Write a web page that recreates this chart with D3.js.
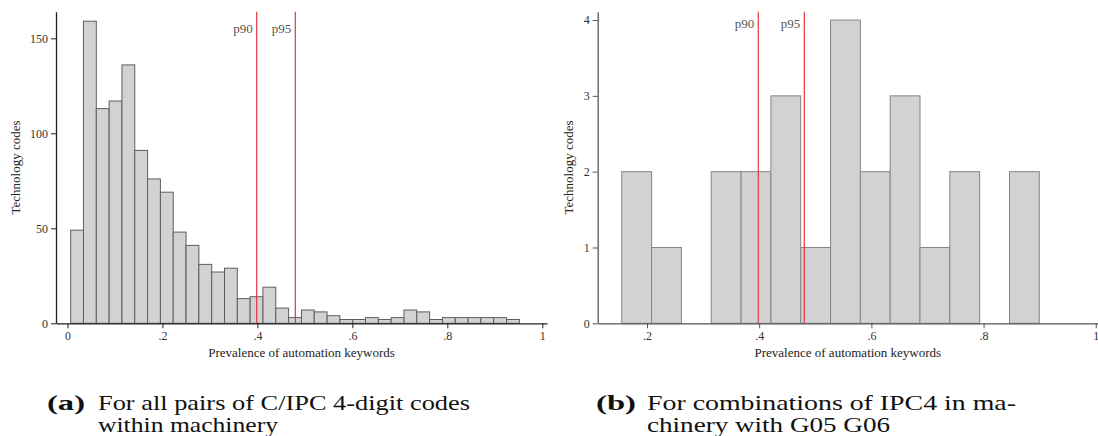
<!DOCTYPE html>
<html><head><meta charset="utf-8">
<script src="https://cdn.jsdelivr.net/npm/d3@7/dist/d3.min.js"></script>
<style>
html,body{margin:0;padding:0;background:#fff;}
svg{display:block;}
</style></head>
<body>
<svg id="chart" width="1098" height="436"></svg>
<script>
// ---- data ----
const leftBinStart = 0.0067;
const leftBinWidth = 0.027;
const leftCounts = [49,159,113,117,136,91,76,69,48,41,31,27,29,13,14,19,8,3,7,6,4,2,2,3,2,3,7,6,2,3,3,3,3,3,2];
const leftYTicks = [0,50,100,150];
const leftXTicks = [0,0.2,0.4,0.6,0.8,1];
const leftXTickLabels = ["0",".2",".4",".6",".8","1"];
const leftPercentiles = [0.3985,0.4798];

const rightBinStart = 0.155;
const rightBinWidth = 0.05317;
const rightCounts = [2,1,0,2,2,3,1,4,2,3,1,2,0,2];
const rightYTicks = [0,1,2,3,4];
const rightXTicks = [0.2,0.4,0.6,0.8,1];
const rightXTickLabels = [".2",".4",".6",".8","1"];
const rightPercentiles = [0.3984,0.4804];

const percentileLabels = ["p90","p95"];
const xTitle = "Prevalence of automation keywords";
const yTitle = "Technology codes";
const captionA = ["(a)","For all pairs of C/IPC 4-digit codes","within machinery"];
const captionB = ["(b)","For combinations of IPC4 in ma-","chinery with G05 G06"];

const svg = d3.select("#chart");
const SERIF = "'Liberation Serif','Times New Roman',serif";
const CAPFONT = "'Liberation Serif','Times New Roman',serif";

function panel(cfg){
  const g = svg.append("g");
  const x = d3.scaleLinear().domain(cfg.xDomain).range([cfg.x0, cfg.x1]);
  const y = d3.scaleLinear().domain(cfg.yDomain).range([cfg.yBottom, cfg.yTop]);
  const bins = cfg.counts.map((c,i)=>({x0: cfg.binStart + i*cfg.binWidth, x1: cfg.binStart+(i+1)*cfg.binWidth, c}));

  g.append("g").selectAll("rect").data(bins.filter(d=>d.c>0)).join("rect")
    .attr("x", d=>x(d.x0)).attr("width", d=>x(d.x1)-x(d.x0))
    .attr("y", d=>y(d.c)).attr("height", d=>y(0)-y(d.c))
    .attr("fill","#d2d2d2").attr("stroke",cfg.barStroke).attr("stroke-width",1);

  // percentile lines
  g.append("g").selectAll("line").data(cfg.pcts).join("line")
    .attr("x1",d=>x(d)).attr("x2",d=>x(d))
    .attr("y1",cfg.yTop).attr("y2",cfg.yBottom)
    .attr("stroke","#e2383d").attr("stroke-width",1.2);
  g.append("g").selectAll("text").data(cfg.pcts).join("text")
    .attr("x",d=>x(d)-4).attr("y",cfg.pLabelY)
    .attr("text-anchor","end").attr("font-family",SERIF).attr("font-size",13)
    .attr("fill","#555").text((d,i)=>percentileLabels[i]);

  // x axis
  const xa = g.append("g").attr("transform",`translate(0,${cfg.yBottom})`)
    .call(d3.axisBottom(x).tickValues(cfg.xTicks).tickFormat((d,i)=>cfg.xTickLabels[i]).tickSize(5).tickSizeOuter(0).tickPadding(3));
  // y axis
  const ya = g.append("g").attr("transform",`translate(${cfg.x0},0)`)
    .call(d3.axisLeft(y).tickValues(cfg.yTicks).tickFormat(d3.format("d")).tickSize(5).tickSizeOuter(0).tickPadding(3));
  [xa,ya].forEach(a=>{
    a.select(".domain").attr("stroke",cfg.axisColor).attr("stroke-width",1.3);
    a.selectAll(".tick line").attr("stroke",cfg.axisColor);
    a.selectAll(".tick text").attr("font-family",SERIF).attr("font-size",12).attr("fill","#333");
  });

  g.append("text").attr("x",(cfg.x0+cfg.x1)/2).attr("y",357)
    .attr("text-anchor","middle").attr("font-family",SERIF).attr("font-size",13).attr("fill","#222").text(xTitle);
  g.append("text").attr("transform",`translate(${cfg.yTitleX},${(cfg.yTop+cfg.yBottom)/2}) rotate(-90)`)
    .attr("text-anchor","middle").attr("dy","0.35em").attr("font-family",SERIF).attr("font-size",13).attr("fill","#222").text(yTitle);

  // caption
  const cap = g.append("g").attr("font-family",CAPFONT).attr("font-size",21).attr("fill","#111");
  cap.append("text").attr("x",cfg.capX).attr("y",410).attr("font-weight","bold")
    .attr("textLength",cfg.capLen[0]).attr("lengthAdjust","spacingAndGlyphs").text(cfg.caption[0]);
  cap.append("text").attr("x",cfg.capX+51).attr("y",410)
    .attr("textLength",cfg.capLen[1]).attr("lengthAdjust","spacingAndGlyphs").text(cfg.caption[1]);
  cap.append("text").attr("x",cfg.capX+51).attr("y",432)
    .attr("textLength",cfg.capLen[2]).attr("lengthAdjust","spacingAndGlyphs").text(cfg.caption[2]);
}

panel({
  counts:leftCounts, binStart:leftBinStart, binWidth:leftBinWidth,
  xDomain:[-0.0242,1.0099], x0:56, x1:547,
  yDomain:[0,164], yBottom:323.3, yTop:11.7,
  xTicks:leftXTicks, xTickLabels:leftXTickLabels, yTicks:leftYTicks,
  pcts:leftPercentiles, pLabelY:33, barStroke:"#5e5e5e", axisColor:"#222",
  yTitleX:15, capX:47, caption:captionA, capLen:[38,372,180]
});
panel({
  counts:rightCounts, binStart:rightBinStart, binWidth:rightBinWidth,
  xDomain:[0.1121,1.004], x0:597.7, x1:1098,
  yDomain:[0,4.11], yBottom:323.3, yTop:11.7,
  xTicks:rightXTicks, xTickLabels:rightXTickLabels, yTicks:rightYTicks,
  pcts:rightPercentiles, pLabelY:28, barStroke:"#858585", axisColor:"#555",
  yTitleX:568, capX:596, caption:captionB, capLen:[40,369,243]
});
</script>
</body></html>
